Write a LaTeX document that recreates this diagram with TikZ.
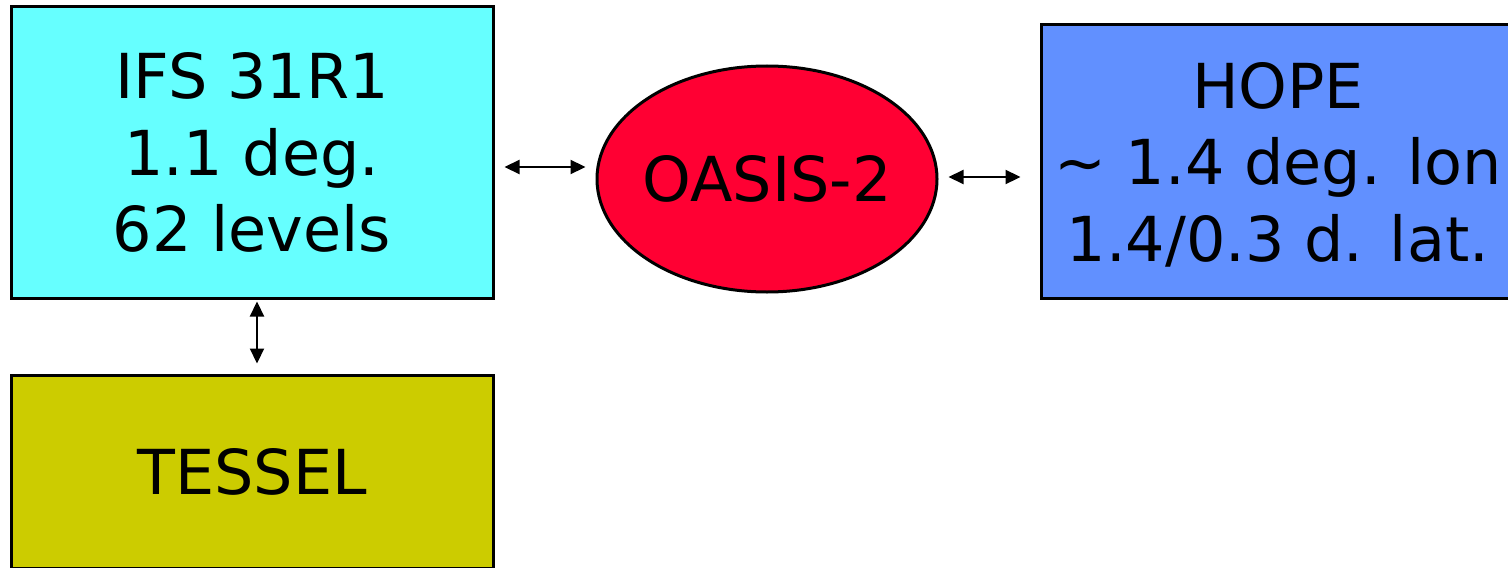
\documentclass[tikz,border=0pt]{standalone}
\usepackage{fontspec}
\setmainfont{DejaVu Sans}
\usetikzlibrary{arrows.meta,shapes.geometric}
\definecolor{ifscyan}{HTML}{66FFFF}
\definecolor{oasisred}{HTML}{FF0033}
\definecolor{hopeblue}{HTML}{6190FF}
\definecolor{tesselolive}{HTML}{CCCC00}
\begin{document}
\begin{tikzpicture}[x=0.5pt,y=-0.5pt,
  box/.style={draw=black, line width=1.5pt, rectangle, inner sep=0pt, align=center,
    font=\fontsize{31}{38.25}\selectfont},
  oval/.style={draw=black, line width=1.5pt, ellipse, inner xsep=-30pt, inner ysep=-10pt, align=center,
    font=\fontsize{31}{38.25}\selectfont},
  link/.style={line width=1.1pt, {Triangle[length=7.5pt,width=7pt]}-{Triangle[length=7.5pt,width=7pt]}}]
\useasboundingbox (0,0) rectangle (1508,567);
\begin{scope}
\clip (0,0) rectangle (1508,567);
\node[box, fill=ifscyan, minimum width=241pt, minimum height=145.5pt] (ifs) at (252,152.5)
  {IFS 31R1\\1.1 deg.\\62 levels};
\node[box, fill=tesselolive, minimum width=241pt, minimum height=96.5pt] (tessel) at (252,471.5)
  {TESSEL};
\node[oval, fill=oasisred, minimum width=170pt, minimum height=113pt] (oasis) at (767,179)
  {OASIS-2};
\node[box, fill=hopeblue, minimum width=237pt, minimum height=136.5pt, text depth=0pt] (hope) at (1278,161.5)
  {HOPE\\\textasciitilde{} 1.4 deg. lon\\1.4/0.3 d. lat.};
\draw[link, shorten <=5pt, shorten >=5pt] (ifs.east |- 0,167) -- (oasis.west |- 0,167);
\draw[link, shorten <=5pt, shorten >=9.5pt] (oasis.east |- 0,177) -- (hope.west |- 0,177);
\draw[link, shorten <=1pt, shorten >=5pt] (ifs.south -| 257,0) -- (tessel.north -| 257,0);
\end{scope}
\end{tikzpicture}
\end{document}
